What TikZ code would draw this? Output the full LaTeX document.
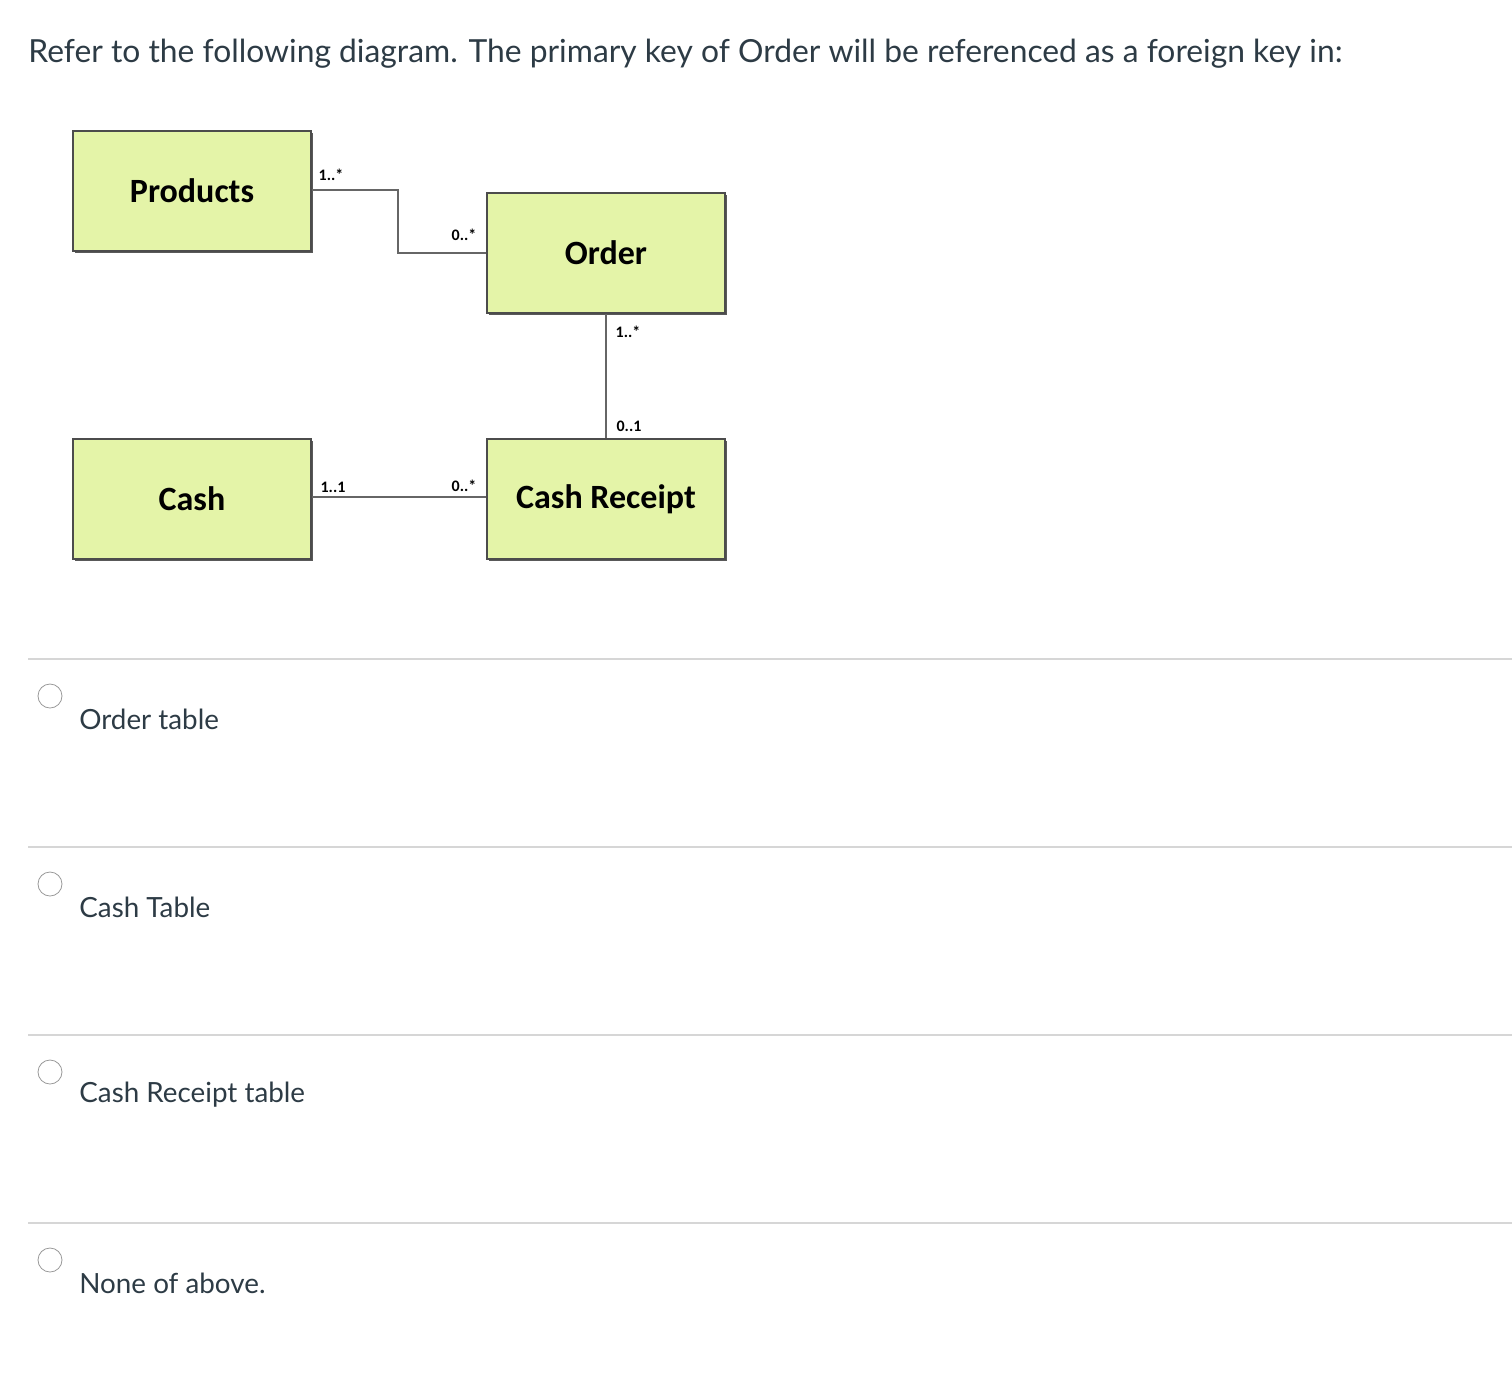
\documentclass[tikz,border=0pt]{standalone}
\usepackage{fontspec}
\setmainfont{Lato}
\newfontfamily\boxfont{Carlito}
\usetikzlibrary{shadows}
\definecolor{boxfill}{HTML}{E4F4A8}
\definecolor{sep}{HTML}{D6D6D6}
\definecolor{txt}{HTML}{2D3B45}
\begin{document}
\begin{tikzpicture}[x=0.5pt,y=-0.5pt,
  ent/.style={draw=black!70,line width=1pt,fill=boxfill,minimum width=119pt,minimum height=60pt,inner sep=0pt,font=\boxfont\bfseries\fontsize{17}{20}\selectfont,
    general shadow={fill=black!65,shadow xshift=1.2pt,shadow yshift=-1.2pt}},
  mult/.style={font=\boxfont\bfseries\fontsize{8}{9}\selectfont,inner sep=1pt},
  conn/.style={draw=black!60,line width=0.8pt},
  opt/.style={font=\fontsize{13.9}{16}\selectfont,text=txt,anchor=west,inner sep=0pt},
  radio/.style={draw=black!40,fill=white,circle,minimum size=12pt,inner sep=0pt}]
\useasboundingbox (0,0) rectangle (1512,1394);
\node[anchor=west,inner sep=0pt,text=txt,font=\fontsize{15.9}{18}\selectfont] (title) at (28,54) {Refer to the following diagram. The primary key of Order will be referenced as a foreign key in:};
\node[ent] (prod) at (192,191) {Products};
\node[ent] (order) at (606,253) {Order};
\node[ent] (cash) at (192,499) {Cash};
\node[ent] (cr) at (606,499) {Cash Receipt};
\coordinate (b1) at (398,190);
\coordinate (b2) at (398,253);
\draw[conn] (prod.east |- b1) -- (b1) -- (b2) -- (order.west |- b2);
\draw[conn] (order.south) -- (cr.north);
\draw[conn] (cash.east |- 0,497) -- (cr.west |- 0,497);
\node[mult] (m1) at (331,175) {1..*};
\node[mult] (m2) at (464,235) {0..*};
\node[mult] (m3) at (628,332) {1..*};
\node[mult] (m4) at (629,426) {0..1};
\node[mult] (m5) at (333,487) {1..1};
\node[mult] (m6) at (464,486) {0..*};
\foreach \y/\t/\n in {659/Order table/a,847/Cash Table/b,1035/Cash Receipt table/c,1223/None of above./d}{
  \coordinate (s\n) at (28,\y);
  \coordinate (e\n) at (1512,\y);
  \draw[sep,line width=1pt] (s\n) -- (e\n);
  \node[radio] (r\n) at (50,\y+37) {};
  \node[opt] (o\n) at (79,\y+60) {\t};
}
\end{tikzpicture}
\end{document}
